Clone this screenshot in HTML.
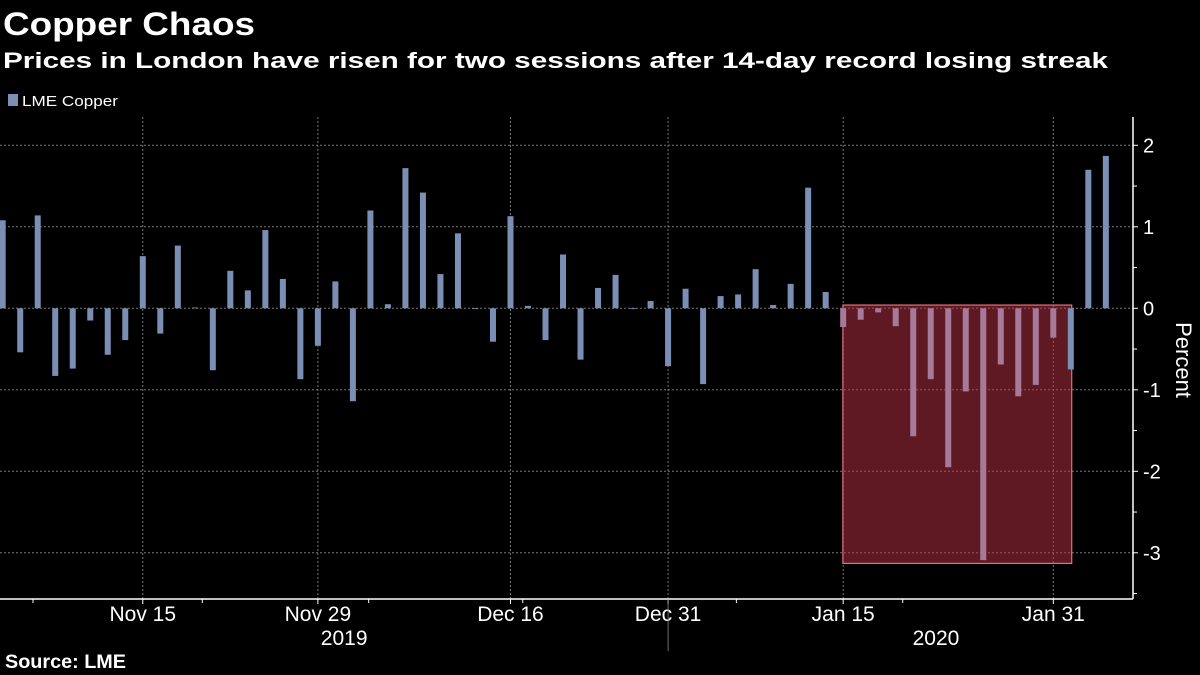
<!DOCTYPE html>
<html><head><meta charset="utf-8"><style>
html,body{margin:0;padding:0;background:#000;}
svg{display:block;font-family:"Liberation Sans",sans-serif;}
</style></head><body>
<svg id="chart" width="1200" height="675" viewBox="0 0 1200 675" xmlns="http://www.w3.org/2000/svg">
<rect width="1200" height="675" fill="#000"/>
<text x="3" y="35" fill="#fff" font-size="32" font-weight="bold" textLength="252" lengthAdjust="spacingAndGlyphs">Copper Chaos</text>
<text x="3" y="68" fill="#fff" font-size="22" font-weight="bold" textLength="1105" lengthAdjust="spacingAndGlyphs">Prices in London have risen for two sessions after 14-day record losing streak</text>
<rect x="8" y="94" width="10" height="12" fill="#7b8fb5"/>
<text x="22" y="106" fill="#fff" font-size="15" textLength="96" lengthAdjust="spacingAndGlyphs">LME Copper</text>
<g id="grid"></g>
<g id="highlight"></g>
<g id="bars"></g>
<g id="axes"></g>
<text transform="translate(1176,360) rotate(90)" fill="#fff" font-size="22" text-anchor="middle">Percent</text>
<text x="5" y="668" fill="#fff" font-size="19" font-weight="bold" textLength="121" lengthAdjust="spacingAndGlyphs">Source: LME</text>
</svg>
<script>
const values = [1.08,-0.54,1.14,-0.83,-0.74,-0.15,-0.57,-0.39,0.64,-0.31,0.77,0.01,-0.76,0.46,0.22,0.96,0.36,-0.87,-0.46,0.33,-1.14,1.2,0.05,1.72,
1.42,0.42,0.92,0.0,-0.41,1.13,0.03,-0.39,0.66,-0.63,0.25,0.41,0.0,0.09,-0.71,0.24,-0.93,0.15,0.17,0.48,0.04,0.30,1.48,0.2,
-0.23,-0.14,-0.05,-0.22,-1.57,-0.87,-1.95,-1.02,-3.09,-0.69,-1.08,-0.94,-0.36,-0.75,1.70,1.87];
const xTickIdx = [8,18,29,38,48,60];
const xTickLabels = ["Nov 15","Nov 29","Dec 16","Dec 31","Jan 15","Jan 31"];
const minorXIdx = [1.73,11.4,20.9,29.7,41.9,51.4];
const yTicks = [2,1,0,-1,-2,-3];
const yMinor = [1.5,0.5,-0.5,-1.5,-2.5,-3.5];
const years = [{label:"2019", idx:19.5},{label:"2020", idx:53.3}];
const yearSepIdx = 38;
const streakStart = 48, streakEnd = 61, streakTop = 0.04, streakBottom = -3.13;

const NS="http://www.w3.org/2000/svg";
const X0=2.7, STEP=17.51, Y0=308.3, UNIT=81.5, AXR=1133, AXB=599, TOP=117;
const xs=i=>X0+i*STEP, ys=v=>Y0-v*UNIT;
function mk(tag,attrs,parent){const e=document.createElementNS(NS,tag);for(const k in attrs)e.setAttribute(k,attrs[k]);document.getElementById(parent).appendChild(e);return e;}
yTicks.forEach(t=>{const l=mk('line',{x1:0,x2:AXR,y1:ys(t),y2:ys(t),stroke:'#777','stroke-dasharray':'2,2','stroke-width':1},'grid');

});
xTickIdx.forEach(i=>{const l=mk('line',{x1:xs(i),x2:xs(i),y1:TOP,y2:AXB,stroke:'#777','stroke-dasharray':'2,2','stroke-width':1},'grid');

});
const hx1=xs(streakStart)-0.3, hx2=xs(streakEnd)+0.9;
const hr=mk('rect',{x:hx1,y:ys(streakTop),width:hx2-hx1,height:ys(streakBottom)-ys(streakTop),fill:'rgba(190,50,70,0.5)',stroke:'#e0707f','stroke-width':1.2},'highlight');


values.forEach((v,i)=>{const y=Math.min(ys(v),Y0),h=Math.max(Math.abs(v)*UNIT,0.8);
const inS=i>=streakStart&&i<=streakEnd-1;
const b=mk('rect',{x:xs(i)-3,y:y,width:6,height:h,fill:inS?'#a77a9a':'#7b8fb5'},'bars');

});
mk('line',{x1:0,x2:AXR,y1:AXB,y2:AXB,stroke:'#fff','stroke-width':1.5},'axes');
mk('line',{x1:AXR,x2:AXR,y1:TOP,y2:AXB,stroke:'#fff','stroke-width':1.5},'axes');
yTicks.forEach(t=>{mk('line',{x1:AXR,x2:AXR+5,y1:ys(t),y2:ys(t),stroke:'#fff'},'axes');
const tx=mk('text',{x:AXR+10,y:ys(t)+7,fill:'#fff','font-size':20},'axes');tx.textContent=t<0?'-'+Math.abs(t):String(t);

});
yMinor.forEach(t=>{mk('line',{x1:AXR,x2:AXR+4,y1:ys(t),y2:ys(t),stroke:'#fff'},'axes');});
xTickIdx.forEach((i,k)=>{mk('line',{x1:xs(i),x2:xs(i),y1:AXB,y2:AXB+5,stroke:'#fff'},'axes');
const tx=mk('text',{x:xs(i),y:AXB+22,fill:'#fff','font-size':21,'text-anchor':'middle'},'axes');tx.textContent=xTickLabels[k];

});
minorXIdx.forEach(i=>{mk('line',{x1:xs(i),x2:xs(i),y1:AXB,y2:AXB+4,stroke:'#fff'},'axes');});
mk('line',{x1:xs(yearSepIdx),x2:xs(yearSepIdx),y1:AXB,y2:651,stroke:'#888','stroke-width':0.8},'axes');
years.forEach(y=>{const tx=mk('text',{x:xs(y.idx),y:AXB+46,fill:'#fff','font-size':21,'text-anchor':'middle'},'axes');tx.textContent=y.label;

});
</script>
</body></html>
